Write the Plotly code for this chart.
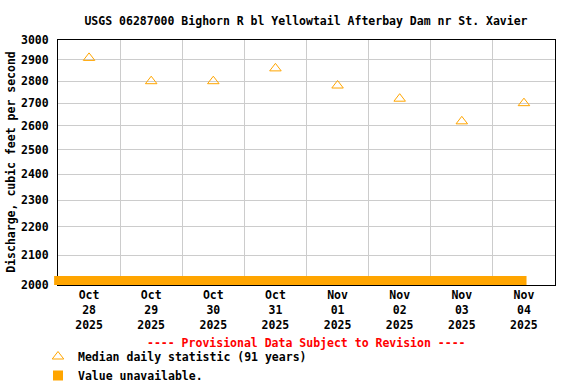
import math
import plotly.graph_objects as go
import pandas as pd

# ---------------- data ----------------
days = ["2025-10-28", "2025-10-29", "2025-10-30", "2025-10-31",
        "2025-11-01", "2025-11-02", "2025-11-03", "2025-11-04"]
median_cfs = [2910, 2800, 2800, 2860, 2780, 2720, 2620, 2700]
day_labels = ["Oct<br>28<br>2025", "Oct<br>29<br>2025", "Oct<br>30<br>2025", "Oct<br>31<br>2025",
              "Nov<br>01<br>2025", "Nov<br>02<br>2025", "Nov<br>03<br>2025", "Nov<br>04<br>2025"]
y_ticks = [2000, 2100, 2200, 2300, 2400, 2500, 2600, 2700, 2800, 2900, 3000]
unavailable_period = ["2025-10-27 22:30", "2025-11-04 13:00"]

title_text = "USGS 06287000 Bighorn R bl Yellowtail Afterbay Dam nr St. Xavier"
ytitle_text = "Discharge, cubic feet per second"
provisional_text = "---- Provisional Data Subject to Revision ----"
median_name = "Median daily statistic (91 years)"
unavail_name = "Value unavailable."

# ---------------- layout constants ----------------
W, H = 576, 384
PL, PR, PT, PB = 58, 555, 39.5, 284.5
BAR_L, BAR_T, BAR_B = 54, 276, 285
ORANGE = "#FFA500"
FONT = dict(family="DejaVu Sans Mono", size=11.5, color="black", weight="bold")

noon = [pd.Timestamp(d) + pd.Timedelta(hours=12) for d in days]
t0 = pd.Timestamp(days[0])
t1 = pd.Timestamp(days[-1]) + pd.Timedelta(days=1)
span = t1 - t0
t0_bar = t0 - span * ((PL - BAR_L) / (PR - PL))

fig = go.Figure()

fig.add_trace(go.Scatter(
    x=noon, y=median_cfs, mode="markers", name=median_name,
    marker=dict(symbol="triangle-up-open", size=10, color=ORANGE,
                line=dict(width=1, color=ORANGE)),
    cliponaxis=False,
))
# legend key for the unavailable-value bar
fig.add_trace(go.Scatter(
    x=[None], y=[None], mode="markers", name=unavail_name,
    marker=dict(symbol="square", size=10, color=ORANGE),
))
# unavailable-value bar
fig.add_trace(go.Scatter(
    x=unavailable_period, y=[0.5, 0.5], mode="lines",
    line=dict(color=ORANGE, width=9), xaxis="x2", yaxis="y2",
    showlegend=False, hoverinfo="skip",
))

fig.update_layout(
    template="none",
    width=W, height=H,
    margin=dict(l=0, r=0, t=0, b=0, autoexpand=False),
    paper_bgcolor="white", plot_bgcolor="white",
    font=FONT,
    showlegend=True,
    title=dict(text=title_text, font=FONT, x=306 / W, xanchor="center",
               xref="paper", y=1 - 20.5 / H, yanchor="middle", yref="paper"),
    xaxis=dict(
        type="date", domain=[PL / W, PR / W], range=[t0, t1],
        tickmode="array", tickvals=noon, ticktext=day_labels,
        showgrid=False, ticks="", tickfont=FONT, automargin=False,
        minor=dict(showgrid=True, gridcolor="#cccccc", gridwidth=1,
                   dtick=86400000, tick0=days[0], ticks=""),
        showline=True, linecolor="black", linewidth=1, mirror=True,
        zeroline=False, anchor="y",
    ),
    yaxis=dict(
        type="log", domain=[1 - PB / H, 1 - PT / H],
        range=[math.log10(2000), math.log10(3000)],
        tickmode="array", tickvals=y_ticks, ticktext=[str(v) for v in y_ticks],
        showgrid=True, gridcolor="#cccccc", gridwidth=1, ticks="",
        ticklabelstandoff=6, tickfont=FONT, automargin=False,
        title=dict(text=ytitle_text, font=FONT, standoff=2),
        showline=True, linecolor="black", linewidth=1, mirror=True,
        zeroline=False, anchor="x",
    ),
    xaxis2=dict(type="date", domain=[BAR_L / W, PR / W], range=[t0_bar, t1],
                visible=False, anchor="y2"),
    yaxis2=dict(domain=[1 - BAR_B / H, 1 - BAR_T / H], range=[0, 1],
                visible=False, anchor="x2"),
    legend=dict(x=38 / W, y=1 - 342 / H, xanchor="left", yanchor="top",
                font=FONT, bgcolor="rgba(0,0,0,0)", tracegroupgap=0,
                itemsizing="trace", borderwidth=0),
    annotations=[dict(text=provisional_text, x=306 / W, y=1 - 343 / H,
                      xref="paper", yref="paper", showarrow=False,
                      xanchor="center", yanchor="middle",
                      font=dict(family="DejaVu Sans Mono", size=11.5,
                                color="red", weight="bold"))],
)

fig.write_html("out.html",
               config={"displayModeBar": False},
               post_script="document.body.style.margin='0';document.body.style.overflow='hidden';")
